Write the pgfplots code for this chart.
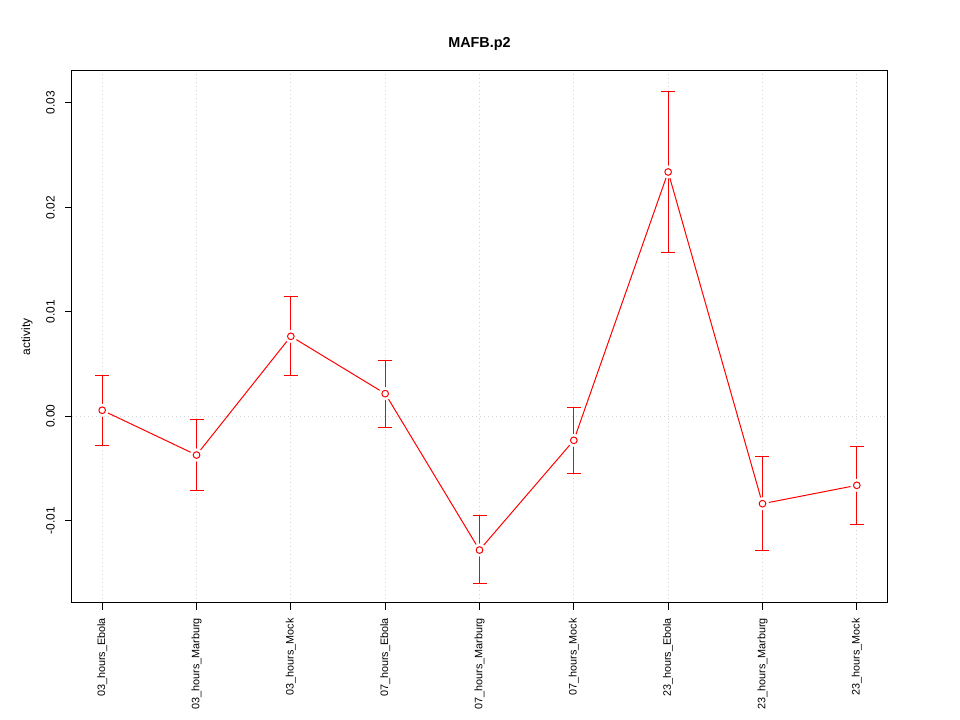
\documentclass[border=0pt]{standalone}
\usepackage{fontspec}
\setmainfont{Liberation Sans}
\usepackage{pgfplots}
\usepackage{pgfplotstable}
\pgfplotsset{compat=1.18}
\definecolor{gridgray}{RGB}{211,211,211}
\pgfplotstableread{
x y ep em
0  0.00057 0.00335 0.00336
1 -0.00372 0.00342 0.00335
2  0.00765 0.00380 0.00380
3  0.00216 0.00322 0.00329
4 -0.01282 0.00329 0.00325
5 -0.00231 0.00319 0.00320
6  0.02339 0.00773 0.00776
7 -0.00838 0.00450 0.00453
8 -0.00662 0.00374 0.00373
}\datatable
\begin{document}
\fontsize{9pt}{11pt}\selectfont
\begin{tikzpicture}
\path[use as bounding box] (-54pt,-87.75pt) rectangle (666pt,452.25pt);
\begin{axis}[
  at={(0,0)}, anchor=south west,
  scale only axis,
  width=611.25pt, height=399pt,
  xmin=-0.32, xmax=8.32,
  ymin=-0.01789, ymax=0.03306,
  axis line style={black, line width=0.75pt},
  tick style={black, line width=0.75pt},
  tick align=outside,
  xtick pos=bottom, ytick pos=left,
  major tick length=5.25pt,
  xtick={0,...,8},
  xticklabels={03\_hours\_Ebola,03\_hours\_Marburg,03\_hours\_Mock,07\_hours\_Ebola,07\_hours\_Marburg,07\_hours\_Mock,23\_hours\_Ebola,23\_hours\_Marburg,23\_hours\_Mock},
  x tick label style={rotate=90, anchor=east, inner sep=0pt, font=\fontsize{8.1pt}{10pt}\selectfont},
  xticklabel shift=6pt,
  ytick={-0.01,0,0.01,0.02,0.03},
  yticklabels={-0.01,0.00,0.01,0.02,0.03},
  scaled y ticks=false,
  y tick label style={rotate=90, anchor=south, inner sep=0pt, font=\fontsize{9pt}{11pt}\selectfont},
  yticklabel shift=7.5pt,
  xmajorgrids,
  major grid style={gridgray, line width=0.75pt, dash pattern=on 0.75pt off 2.25pt},
  extra y ticks={0},
  extra y tick labels={},
  extra y tick style={grid=major, major tick length=0pt},
  clip=false,
]
% connecting line
\addplot[red, line width=0.75pt, no marks] table[x=x, y=y] {\datatable};
% white halos giving the gaps of an R type="b" plot
\addplot[white, only marks, mark=*, mark size=4.6pt] table[x=x, y=y] {\datatable};
% error bars and open circles
\addplot[red, only marks, mark=o, mark size=2.5pt, mark options={solid, red, line width=0.75pt},
  error bars/.cd, y dir=both, y explicit,
  error bar style={red, line width=0.75pt, solid},
  error mark options={rotate=90, red, mark size=5.25pt, line width=0.75pt}]
  table[x=x, y=y, y error plus=ep, y error minus=em] {\datatable};
\end{axis}
\node[font=\bfseries\fontsize{10.8pt}{13pt}\selectfont] at (305.6pt,419.25pt) {MAFB.p2};
\node[rotate=90, font=\fontsize{9pt}{11pt}\selectfont] at (-33.75pt,199.5pt) {activity};
\end{tikzpicture}
\end{document}
